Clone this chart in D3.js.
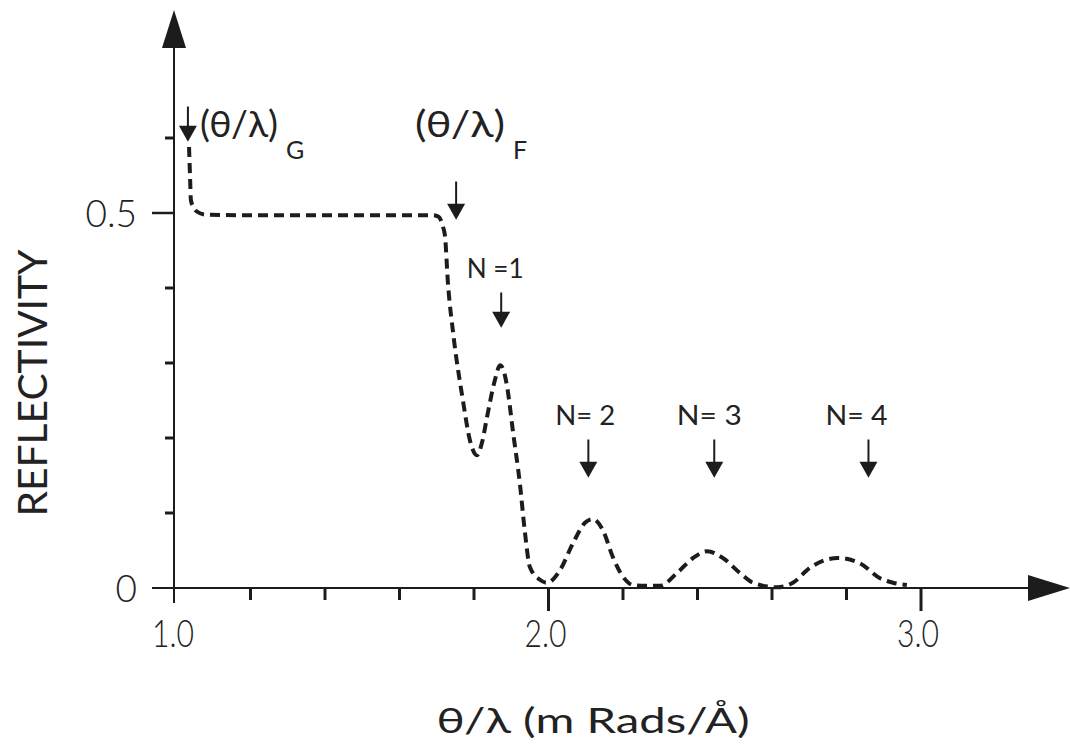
<!DOCTYPE html>
<html><head><meta charset="utf-8">
<script src="https://cdn.jsdelivr.net/npm/d3@7"></script>
<style>
html,body{margin:0;padding:0;background:#fff;}
text{font-family:"Lato","DejaVu Sans Condensed",sans-serif;fill:#222;font-weight:300;}
</style></head>
<body>
<svg id="c" width="1070" height="754"></svg>
<script>
// ---- data ----
const thetaLambda = [1.035,1.038,1.040,1.048,1.056,1.078,1.20,1.40,1.60,1.69,1.705,1.717,1.722,1.730,1.744,1.770,1.789,1.808,1.822,1.835,1.856,1.870,1.878,1.889,1.905,1.923,1.937,1.950,1.977,1.996,2.031,2.066,2.098,2.119,2.146,2.173,2.200,2.227,2.262,2.299,2.345,2.388,2.426,2.468,2.514,2.549,2.613,2.656,2.702,2.777,2.836,2.890,2.925,2.962];
const reflectivity = [0.588,0.544,0.517,0.507,0.502,0.498,0.497,0.497,0.497,0.497,0.495,0.481,0.470,0.407,0.340,0.251,0.197,0.177,0.195,0.228,0.277,0.297,0.292,0.268,0.207,0.140,0.073,0.028,0.011,0.007,0.024,0.060,0.087,0.092,0.077,0.041,0.015,0.004,0.003,0.003,0.020,0.040,0.049,0.040,0.020,0.007,0.001,0.007,0.027,0.040,0.033,0.013,0.007,0.004];
const xMajorTicks = [2.0, 3.0];
const xMinorTicks = [1.2,1.4,1.6,1.8,2.2,2.4,2.6,2.8];
const xTickLabels = ["1.0","2.0","3.0"];
const xTickLabelValues = [1.0,2.0,3.0];
const yMinorTicks = [0.1,0.2,0.3,0.4,0.6];
const yMajorTicks = [0.5];
const yTickLabels = ["0","0.5"];
const yTickLabelValues = [0,0.5];
const peakLabels = ["N =1","N= 2","N= 3","N= 4"];
const peakArrowX = [1.873,2.107,2.445,2.859];
const peakArrowTip = [0.347,0.147,0.147,0.147];
const peakArrowLen = [0.047,0.051,0.051,0.051];
const criticalLabels = ["G","F"];
const criticalArrowX = [1.032,1.752];
const criticalArrowTip = [0.595,0.491];
const criticalArrowLen = [0.047,0.051];

// ---- scales ----
const svg = d3.select("#c");
const x = d3.scaleLinear().domain([1,3]).range([176,921]);
const y = d3.scaleLinear().domain([0,0.5]).range([588,213]);
const ink = "#1c1c1c";

// axes lines
svg.append("line").attr("x1",x(1)-2).attr("x2",x(1)-2).attr("y1",603).attr("y2",40)
  .attr("stroke",ink).attr("stroke-width",2);
svg.append("path").attr("d",`M${x(1)-2},10 L${x(1)-14},48 L${x(1)+10},48 Z`).attr("fill",ink);
svg.append("line").attr("x1",152).attr("x2",1040).attr("y1",y(0)).attr("y2",y(0))
  .attr("stroke",ink).attr("stroke-width",2);
svg.append("path").attr("d",`M1070,${y(0)} L1028,${y(0)-13} L1028,${y(0)+13} Z`).attr("fill",ink);

// x ticks
svg.selectAll(".xmin").data(xMinorTicks).join("line")
  .attr("x1",d=>x(d)).attr("x2",d=>x(d)).attr("y1",y(0)).attr("y2",y(0)+12)
  .attr("stroke",ink).attr("stroke-width",3);
svg.selectAll(".xmaj").data(xMajorTicks).join("line")
  .attr("x1",d=>x(d)).attr("x2",d=>x(d)).attr("y1",y(0)).attr("y2",y(0)+23)
  .attr("stroke",ink).attr("stroke-width",3);
svg.selectAll(".xlab").data(xTickLabelValues).join("text")
  .attr("x",d=>x(d)-3).attr("y",647).attr("text-anchor","middle")
  .attr("font-size",37)
  .attr("textLength",42).attr("lengthAdjust","spacingAndGlyphs")
  .text((d,i)=>xTickLabels[i]);

// y ticks
svg.selectAll(".ymin").data(yMinorTicks).join("line")
  .attr("x1",x(1)-11).attr("x2",x(1)-2).attr("y1",d=>y(d)).attr("y2",d=>y(d))
  .attr("stroke",ink).attr("stroke-width",3);
svg.selectAll(".ymaj").data(yMajorTicks).join("line")
  .attr("x1",152).attr("x2",x(1)-2).attr("y1",d=>y(d)).attr("y2",d=>y(d))
  .attr("stroke",ink).attr("stroke-width",2.5);
svg.selectAll(".ylab").data(yTickLabelValues).join("text")
  .attr("x",137).attr("y",d=>y(d)+14).attr("text-anchor","end")
  .attr("font-size",37)
  .text((d,i)=>yTickLabels[i]);

// axis titles
svg.append("text").attr("transform","translate(47,383) rotate(-90)")
  .attr("text-anchor","middle").attr("font-size",40).style("font-weight",400)
  .attr("textLength",267).attr("lengthAdjust","spacingAndGlyphs")
  .text("REFLECTIVITY");
svg.append("text").attr("x",593).attr("y",733).attr("text-anchor","middle")
  .attr("font-size",34).style("font-weight",400)
  .attr("textLength",313).attr("lengthAdjust","spacingAndGlyphs")
  .text("θ/λ (m Rads/Å)");

// curve
const pts = thetaLambda.map((t,i)=>[t,reflectivity[i]]);
svg.append("path").datum(pts)
  .attr("d",d3.line().x(d=>x(d[0])).y(d=>y(d[1])).curve(d3.curveMonotoneX))
  .attr("fill","none").attr("stroke",ink).attr("stroke-width",4)
  .attr("stroke-dasharray","10,6");

// arrows
function arrow(xv, tip, len){
  const px = x(xv), ty = y(tip), sy = y(tip+len);
  svg.append("line").attr("x1",px).attr("x2",px).attr("y1",sy).attr("y2",ty-12)
    .attr("stroke",ink).attr("stroke-width",2);
  svg.append("path").attr("d",`M${px},${ty} L${px-9},${ty-16} L${px+9},${ty-16} Z`).attr("fill",ink);
}
peakArrowX.forEach((v,i)=>arrow(v,peakArrowTip[i],peakArrowLen[i]));
criticalArrowX.forEach((v,i)=>arrow(v,criticalArrowTip[i],criticalArrowLen[i]));

// peak labels
svg.selectAll(".nlab").data(peakLabels).join("text")
  .attr("x",(d,i)=>x(peakArrowX[i]) - [6,3,5,12][i])
  .attr("y",(d,i)=>y(peakArrowTip[i]+peakArrowLen[i])-15)
  .attr("text-anchor","middle").attr("font-size",27).style("font-weight",400)
  .attr("textLength",(d,i)=>[57,60,65,62][i]).attr("lengthAdjust","spacingAndGlyphs")
  .text(d=>d);

// critical labels
const critTextX = [200, 415];
const critTextW = [78, 90];
criticalLabels.forEach((s,i)=>{
  svg.append("text").attr("x",critTextX[i]).attr("y",137)
    .attr("font-size",36).style("font-weight",400)
    .attr("textLength",critTextW[i]).attr("lengthAdjust","spacingAndGlyphs")
    .text("(θ/λ)");
  svg.append("text").attr("x",critTextX[i]+critTextW[i]+8).attr("y",159)
    .attr("font-size",25).style("font-weight",400).text(s);
});
</script>
</body></html>
